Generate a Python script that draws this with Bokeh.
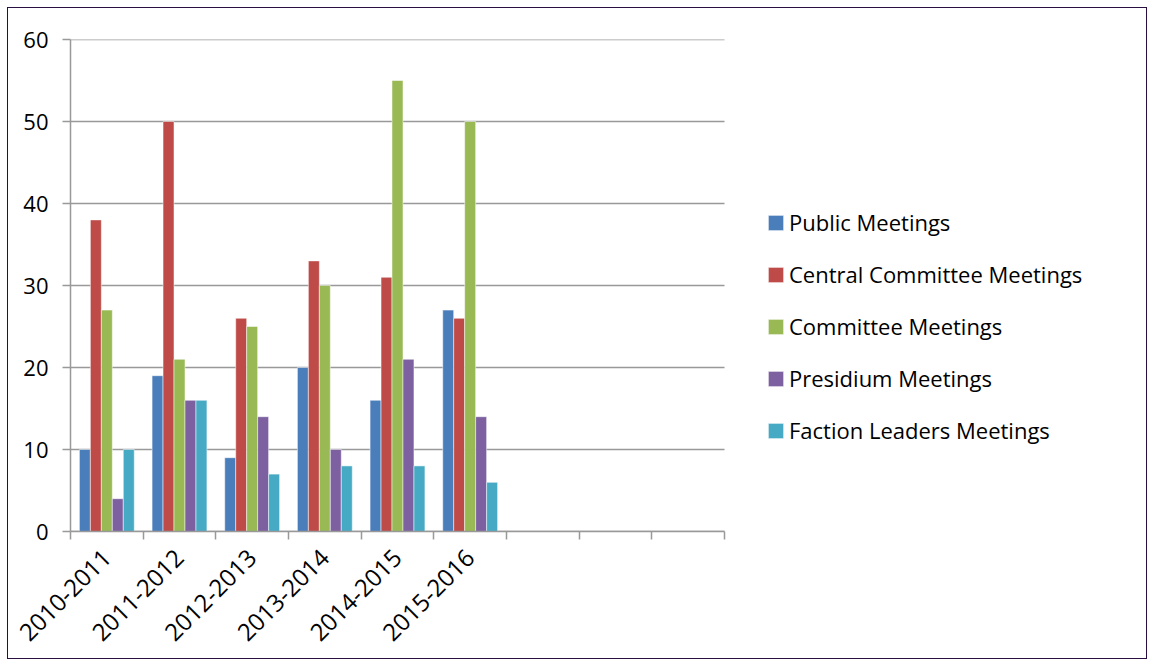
from bokeh.plotting import figure
from bokeh.models import Range1d, FixedTicker, Legend, LegendItem, LinearAxis
from bokeh.embed import file_html
from bokeh.resources import INLINE

categories = ["2010-2011", "2011-2012", "2012-2013", "2013-2014", "2014-2015", "2015-2016"]
n_slots = 9
series_names = ["Public Meetings", "Central Committee Meetings", "Committee Meetings",
                "Presidium Meetings", "Faction Leaders Meetings"]
public = [10, 19, 9, 20, 16, 27]
central = [38, 50, 26, 33, 31, 26]
committee = [27, 21, 25, 30, 55, 50]
presidium = [4, 16, 14, 10, 21, 14]
faction = [10, 16, 7, 8, 8, 6]
colors = ["#4A7EBB", "#BE4B48", "#98B954", "#7D60A0", "#46AAC5"]
y_ticks = [0, 10, 20, 30, 40, 50, 60]

FONT = "Open Sans"
FS = "22px"

# layout: plot area of the chart is 654 px wide for 9 slots; the frame extends
# further right to host the legend, but axis and grid are bounded to the 9 slots
W, LEFT = 1140, 62
frame_px = W - LEFT
slot_px = 654 / n_slots
x_end = frame_px / slot_px

p = figure(width=W, height=652, output_backend="svg", toolbar_location=None,
           x_range=Range1d(0, x_end), y_range=Range1d(0, 60),
           min_border_left=LEFT, min_border_right=0, min_border_top=31, min_border_bottom=129,
           x_axis_type=None, y_axis_type=None,
           styles={"border": "1px solid #2A1040", "margin": "7px 0 0 7px"})
p.outline_line_color = None
p.background_fill_color = "white"
p.border_fill_color = "white"
p.xgrid.visible = False
p.ygrid.visible = False

# horizontal gridlines limited to the 9 category slots
p.segment(x0=[0] * len(y_ticks), x1=[n_slots] * len(y_ticks), y0=y_ticks, y1=y_ticks,
          line_color="#999999", line_width=1.5, level="underlay")

bar_w = 0.151
all_series = [public, central, committee, presidium, faction]
renderers = []
for k, (vals, col) in enumerate(zip(all_series, colors)):
    off = (k - 2) * bar_w
    xs = [i + 0.5 + off for i in range(len(vals))]
    r = p.vbar(x=xs, top=vals, width=bar_w, bottom=0, fill_color=col,
               line_color="white", line_width=0.5)
    renderers.append(r)

# y axis
yax = LinearAxis(ticker=FixedTicker(ticks=y_ticks, minor_ticks=[]))
yax.axis_line_color = "#999999"
yax.axis_line_width = 1.5
yax.major_tick_line_color = "#999999"
yax.major_tick_line_width = 1.5
yax.major_tick_out = 8
yax.major_tick_in = 0
yax.major_label_text_font = FONT
yax.major_label_text_font_size = FS
yax.major_label_text_color = "black"
yax.major_label_standoff = 14
p.add_layout(yax, "left")

# x axis
xax = LinearAxis(ticker=FixedTicker(ticks=[i + 0.5 for i in range(len(categories))],
                                    minor_ticks=list(range(n_slots + 1))),
                 bounds=(0, n_slots))
xax.major_label_overrides = {i + 0.5: c for i, c in enumerate(categories)}
xax.axis_line_color = "#999999"
xax.axis_line_width = 1.5
xax.major_tick_line_color = None
xax.major_tick_out = 0
xax.major_tick_in = 0
xax.minor_tick_line_color = "#999999"
xax.minor_tick_line_width = 1.5
xax.minor_tick_out = 8
xax.minor_tick_in = 0
xax.major_label_orientation = 0.785398
xax.major_label_text_font = FONT
xax.major_label_text_font_size = "24px"
xax.major_label_text_color = "black"
xax.major_label_standoff = 14
p.add_layout(xax, "below")

legend = Legend(items=[LegendItem(label=nm, renderers=[r]) for nm, r in zip(series_names, renderers)],
                location=(696, 86))
legend.label_text_font = FONT
legend.label_text_font_size = FS
legend.label_text_color = "black"
legend.glyph_width = 19
legend.glyph_height = 19
legend.label_height = 20
legend.spacing = 22
legend.padding = 0
legend.margin = 0
legend.label_standoff = 4
legend.border_line_color = None
legend.background_fill_alpha = 0
p.add_layout(legend, "center")

open("out.html", "w").write(file_html(p, INLINE))
